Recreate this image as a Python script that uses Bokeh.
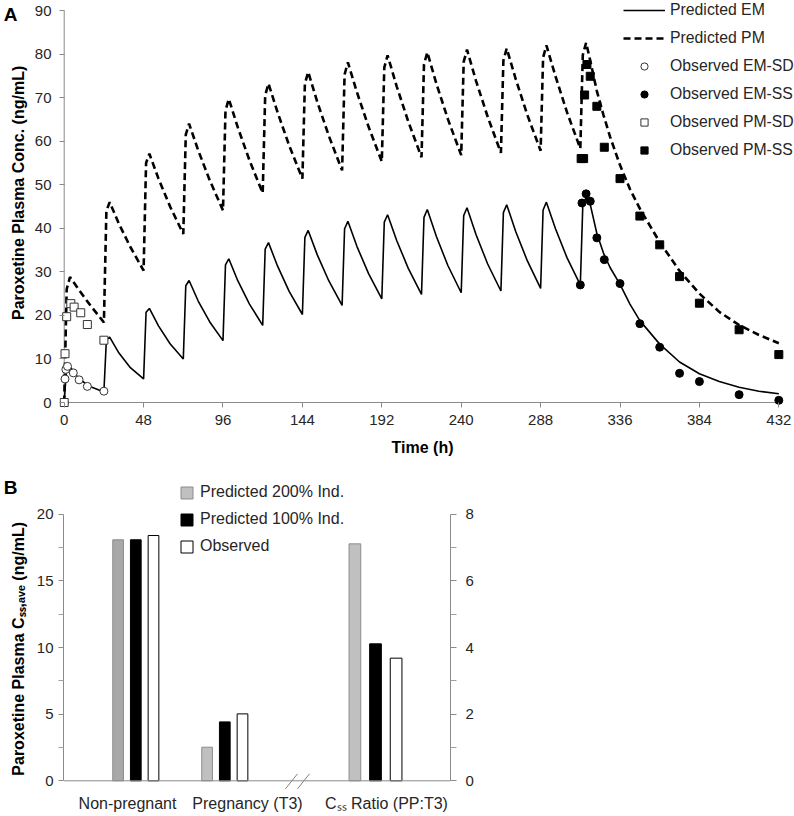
from bokeh.plotting import figure
from bokeh.models import (Range1d, LinearAxis, FixedTicker, Legend, LegendItem, Span)
from bokeh.layouts import column, row
from bokeh.embed import file_html
from bokeh.resources import INLINE

# ------------------------------------------------------------------ data (panel A)
TIME = [0, 1.5, 3.5, 9, 16,
        24, 25.5, 27.5, 33, 40,
        48, 49.5, 51.5, 57, 64,
        72, 73.5, 75.5, 81, 88,
        96, 97.5, 99.5, 105, 112,
        120, 121.5, 123.5, 129, 136,
        144, 145.5, 147.5, 153, 160,
        168, 169.5, 171.5, 177, 184,
        192, 193.5, 195.5, 201, 208,
        216, 217.5, 219.5, 225, 232,
        240, 241.5, 243.5, 249, 256,
        264, 265.5, 267.5, 273, 280,
        288, 289.5, 291.5, 297, 304,
        312, 313.5, 315.5, 318, 322, 326, 330, 336, 342, 348, 360, 372, 384, 396, 408, 420, 432]

PRED_EM = [0, 8.3, 8.2, 5.4, 3.6,
           2.4, 14.4, 15.0, 11.4, 8.0,
           5.4, 20.7, 21.6, 17.6, 13.5,
           10.0, 26.8, 28.0, 23.3, 18.5,
           14.2, 31.6, 33.0, 27.9, 22.6,
           17.7, 35.2, 36.7, 31.3, 25.5,
           20.2, 37.9, 39.5, 33.9, 27.9,
           22.3, 39.9, 41.6, 35.8, 29.6,
           23.8, 41.4, 43.1, 37.2, 30.8,
           24.8, 42.5, 44.3, 38.1, 31.4,
           25.2, 42.9, 44.7, 38.5, 31.8,
           25.6, 43.6, 45.4, 39.2, 32.5,
           26.2, 44.2, 46.0, 39.9, 33.2,
           27.0, 45.2, 47.1, 45.5, 38.8, 34.3, 31.0, 27.1, 22.6, 18.8, 13.4, 9.3, 6.6, 4.8, 3.5, 2.6, 2.0]

PRED_PM = [0, 26.0, 28.8, 25.8, 22.2,
           18.4, 44.0, 46.0, 41.1, 35.7,
           30.3, 55.0, 57.1, 51.4, 45.0,
           38.7, 61.5, 64.0, 57.9, 51.0,
           44.1, 67.0, 69.7, 63.1, 55.6,
           48.1, 70.5, 73.2, 66.6, 59.0,
           51.4, 73.2, 75.9, 69.0, 61.2,
           53.3, 75.3, 78.1, 71.2, 63.3,
           55.3, 76.9, 79.7, 72.6, 64.5,
           56.3, 77.6, 80.4, 73.2, 65.0,
           56.8, 78.2, 81.0, 73.8, 65.6,
           57.3, 78.5, 81.3, 74.2, 66.0,
           57.8, 79.2, 82.0, 74.9, 66.6,
           58.3, 79.8, 82.6, 78.5, 71.5, 66.0, 61.0, 54.5, 49.0, 44.5, 36.8, 30.2, 25.0, 20.8, 17.8, 15.5, 13.6]

EM_SD_T = [0, 0.5, 1, 2, 5.5, 9, 14, 24]
EM_SD = [0, 5.4, 7.6, 8.3, 6.8, 5.2, 3.7, 2.6]
PM_SD_T = [0, 0.5, 1.5, 4, 6, 10, 14, 24]
PM_SD = [0, 11.2, 19.7, 22.7, 21.9, 20.6, 17.9, 14.3]
EM_SS_T = [312, 313, 315.5, 318, 322, 326.5, 336, 348, 360, 372, 384, 408, 432]
EM_SS = [27.0, 45.8, 47.9, 46.2, 37.8, 32.8, 27.3, 18.1, 12.7, 6.7, 4.8, 1.8, 0.5]
PM_SS_T = [312.5, 314, 314.6, 316, 318, 322, 326.5, 336, 348, 360, 372, 384, 408, 432]
PM_SS = [56.0, 56.0, 70.6, 77.6, 74.9, 68.0, 58.6, 51.4, 42.8, 36.2, 28.9, 22.8, 16.7, 11.0]

X_TICKS_A = [0, 48, 96, 144, 192, 240, 288, 336, 384, 432]
Y_TICKS_A = [0, 10, 20, 30, 40, 50, 60, 70, 80, 90]
LEGEND_A = ["Predicted EM", "Predicted PM", "Observed EM-SD", "Observed EM-SS",
            "Observed PM-SD", "Observed PM-SS"]

# ------------------------------------------------------------------ data (panel B)
B_CATEGORIES = ["Non-pregnant", "Pregnancy (T3)", "C\u209b\u209b Ratio (PP:T3)"]
B_PRED200 = [18.08, 2.52]
B_PRED100 = [18.08, 4.42]
B_OBS = [18.4, 5.02]
B_SERIES = ["Predicted 200% Ind.", "Predicted 100% Ind.", "Observed"]
RATIO_VALUES = [7.11, 4.11, 3.68]          # ratio PP:T3 for the three series
Y_TICKS_B = [0, 5, 10, 15, 20]
Y_MINOR_B = [2.5, 7.5, 12.5, 17.5]
Y_TICKS_R = [0, 2, 4, 6, 8]
Y_MINOR_R = [1, 3, 5, 7]

# ------------------------------------------------------------------ styles / layout constants
FONT = "Liberation Sans"
AX = "#8a8a8a"
TXT = "#262626"
NB = "\u00a0"


def style_axis(ax, standoff, tick_in=0, tick_out=5):
    ax.axis_line_color = AX
    ax.major_tick_line_color = AX
    ax.minor_tick_line_color = AX
    ax.major_tick_in = tick_in
    ax.major_tick_out = tick_out
    ax.minor_tick_in = tick_in
    ax.minor_tick_out = tick_out
    ax.major_label_text_font = FONT
    ax.major_label_text_font_size = "15px"
    ax.major_label_text_color = TXT
    ax.major_label_standoff = standoff
    ax.axis_label_text_font = FONT
    ax.axis_label_text_font_size = "16px"
    ax.axis_label_text_font_style = "bold"
    ax.axis_label_text_color = "black"


def letter_axis(letter, tick, standoff):
    ax = LinearAxis(ticker=FixedTicker(ticks=[tick]), major_label_overrides={tick: letter})
    ax.axis_line_color = None
    ax.major_tick_line_color = None
    ax.minor_tick_line_color = None
    ax.major_tick_in = 0
    ax.major_tick_out = 0
    ax.major_label_standoff = standoff
    ax.major_label_text_font = FONT
    ax.major_label_text_font_size = "19px"
    ax.major_label_text_font_style = "bold"
    ax.major_label_text_color = "black"
    return ax


# ================================================================== panel A
# pixel geometry of panel A (frame 58..794 x 0..407, axes at x=0 -> 62.7px, y=0 -> 402px)
A_W, A_H = 794, 464
A_FL, A_FR, A_FT, A_FB = 58, 794, 0, 407
A_X0, A_X432 = 62.7, 778.3
A_Y0, A_Y90 = 402.0, 10.0
kx = (A_X432 - A_X0) / 432.0
ky = (A_Y0 - A_Y90) / 90.0
xr = Range1d((A_FL - A_X0) / kx, (A_FR - A_X0) / kx)
yr = Range1d(-(A_FB - A_Y0) / ky, (A_Y0 - A_FT) / ky)

pA = figure(width=A_W, height=A_H, x_range=xr, y_range=yr,
            output_backend="svg", toolbar_location=None, title=None,
            min_border_left=A_FL, min_border_right=A_W - A_FR,
            min_border_top=A_FT, min_border_bottom=A_H - A_FB)
pA.outline_line_color = None
pA.grid.visible = False
style_axis(pA.xaxis[0], 7, tick_in=5, tick_out=0)
style_axis(pA.yaxis[0], 8, tick_in=5, tick_out=0)
pA.xaxis.axis_line_color = None
pA.yaxis.axis_line_color = None
pA.xaxis.ticker = FixedTicker(ticks=X_TICKS_A)
pA.yaxis.ticker = FixedTicker(ticks=Y_TICKS_A)
pA.xaxis.minor_tick_line_color = None
pA.yaxis.minor_tick_line_color = None
pA.xaxis.axis_label = "Time (h)" + NB * 2
pA.xaxis.axis_label_standoff = 11
pA.yaxis.axis_label = NB * 5 + "Paroxetine Plasma Conc. (ng/mL)"
pA.yaxis.axis_label_standoff = 5
pA.add_layout(letter_axis("A", 89, -11), "left")

# axis lines at the data origin
pA.line([X_TICKS_A[0], X_TICKS_A[-1]], [0, 0], line_color=AX, line_width=1)
pA.line([0, 0], [Y_TICKS_A[0], Y_TICKS_A[-1]], line_color=AX, line_width=1)

r_em = pA.line(TIME, PRED_EM, line_color="black", line_width=1.6)
r_pm = pA.line(TIME, PRED_PM, line_color="black", line_width=2.6, line_dash="7 4")
r_emsd = pA.scatter(EM_SD_T, EM_SD, marker="circle", size=8, fill_color="white",
                    line_color="#333333", line_width=1)
r_emss = pA.scatter(EM_SS_T, EM_SS, marker="circle", size=8, fill_color="black",
                    line_color="black")
r_pmsd = pA.scatter(PM_SD_T, PM_SD, marker="square", size=8, fill_color="white",
                    line_color="#333333", line_width=1)
r_pmss = pA.scatter(PM_SS_T, PM_SS, marker="square", size=8, fill_color="black",
                    line_color="black")

rendsA = [r_em, r_pm, r_emsd, r_emss, r_pmsd, r_pmss]
legA = Legend(items=[LegendItem(label=l, renderers=[r]) for l, r in zip(LEGEND_A, rendsA)],
              location=(622 - A_FL, A_FB - 159), glyph_width=42, glyph_height=18,
              label_height=18, spacing=10, label_standoff=5, padding=0, margin=0,
              border_line_alpha=0, background_fill_alpha=0,
              label_text_font=FONT, label_text_font_size="15.8px", label_text_color=TXT)
pA.add_layout(legA)

# ================================================================== panel B
B_W, B_H = 794, 351
B_TOP = A_H                      # page y of panel B
B_FL, B_FR = 63, 450
B_FT, B_FB = 480 - B_TOP, 790 - B_TOP
B_Y0, B_Y20 = 780.3 - B_TOP, 513.7 - B_TOP
kb = (B_Y0 - B_Y20) / 20.0
R_SCALE = 8.0 / 20.0
yb0, yb1 = -(B_FB - B_Y0) / kb, (B_Y0 - B_FT) / kb

pB = figure(width=B_W, height=B_H, x_range=Range1d(0, B_FR - B_FL), y_range=Range1d(yb0, yb1),
            output_backend="svg", toolbar_location=None, title=None,
            min_border_left=B_FL, min_border_right=B_W - B_FR,
            min_border_top=B_FT, min_border_bottom=B_H - B_FB)
pB.outline_line_color = None
pB.grid.visible = False
pB.extra_y_ranges = {"ratio": Range1d(yb0 * R_SCALE, yb1 * R_SCALE)}
axR = LinearAxis(y_range_name="ratio")
pB.add_layout(axR, "right")
style_axis(pB.yaxis[0], 5, tick_in=0, tick_out=5)
style_axis(axR, 9, tick_in=0, tick_out=6)
pB.yaxis[0].ticker = FixedTicker(ticks=Y_TICKS_B, minor_ticks=Y_MINOR_B)
pB.yaxis[0].bounds = (Y_TICKS_B[0], Y_TICKS_B[-1])
axR.ticker = FixedTicker(ticks=Y_TICKS_R, minor_ticks=Y_MINOR_R)
axR.bounds = (Y_TICKS_R[0], Y_TICKS_R[-1])
pB.yaxis[0].minor_tick_line_color = "#a0a0a0"
axR.minor_tick_line_color = "#a0a0a0"
pB.yaxis[0].axis_label = "Paroxetine Plasma C\u209b\u209b,\u2090\u1d65\u2091 (ng/mL)" + NB * 6
pB.yaxis[0].axis_label_standoff = 7
pB.add_layout(letter_axis("B", 22, -11), "left")

# category labels on the bottom axis
CAT_POS = [64, 184, 323]
style_axis(pB.xaxis[0], 4, tick_in=0, tick_out=0)
pB.xaxis.ticker = FixedTicker(ticks=CAT_POS)
pB.xaxis.major_label_overrides = {p: c for p, c in zip(CAT_POS, B_CATEGORIES)}
pB.xaxis.axis_line_color = None
pB.xaxis.major_tick_line_color = None
pB.xaxis.minor_tick_line_color = None
pB.xaxis.major_label_text_font_size = "16px"

pB.add_layout(Span(location=0, dimension="width", line_color=AX, line_width=1))

GROUP_X = [72.3, 161.3]
OFF = 17.7
BW = 10.7
r200 = pB.vbar(x=[g - OFF for g in GROUP_X], top=B_PRED200, width=BW,
               fill_color=["#a8a8a8", "#c0c0c0"], line_color="#8c8c8c", line_width=1)
r100 = pB.vbar(x=GROUP_X, top=B_PRED100, width=BW, fill_color="black", line_color="black")
robs = pB.vbar(x=[g + OFF for g in GROUP_X], top=B_OBS, width=BW, fill_color="white",
               line_color="black", line_width=1)
RX, ROFF, RBW = 312.0, 20.6, 11.7
pB.vbar(x=[RX - ROFF, RX, RX + ROFF], top=RATIO_VALUES, width=RBW,
        fill_color=["#c0c0c0", "black", "white"], line_color=["#8c8c8c", "black", "black"],
        line_width=1, y_range_name="ratio")

# axis break marks
BRK_X = [222, 234]
pB.segment(x0=BRK_X, y0=[-8 / kb] * 2, x1=[b + 12 for b in BRK_X], y1=[7 / kb] * 2,
           line_color="#808080", line_width=1)

legB = Legend(items=[LegendItem(label=B_SERIES[0], renderers=[r200], index=1),
                     LegendItem(label=B_SERIES[1], renderers=[r100], index=0),
                     LegendItem(label=B_SERIES[2], renderers=[robs], index=0)],
              location=(116, B_FB - (555 - B_TOP)), glyph_width=15, glyph_height=15,
              label_height=18, spacing=9, label_standoff=6, padding=0, margin=0,
              border_line_alpha=0, background_fill_alpha=0,
              label_text_font=FONT, label_text_font_size="16px", label_text_color=TXT)
pB.add_layout(legB)

layout = column(row(pA), row(pB))
open("out.html", "w").write(file_html(layout, INLINE))
